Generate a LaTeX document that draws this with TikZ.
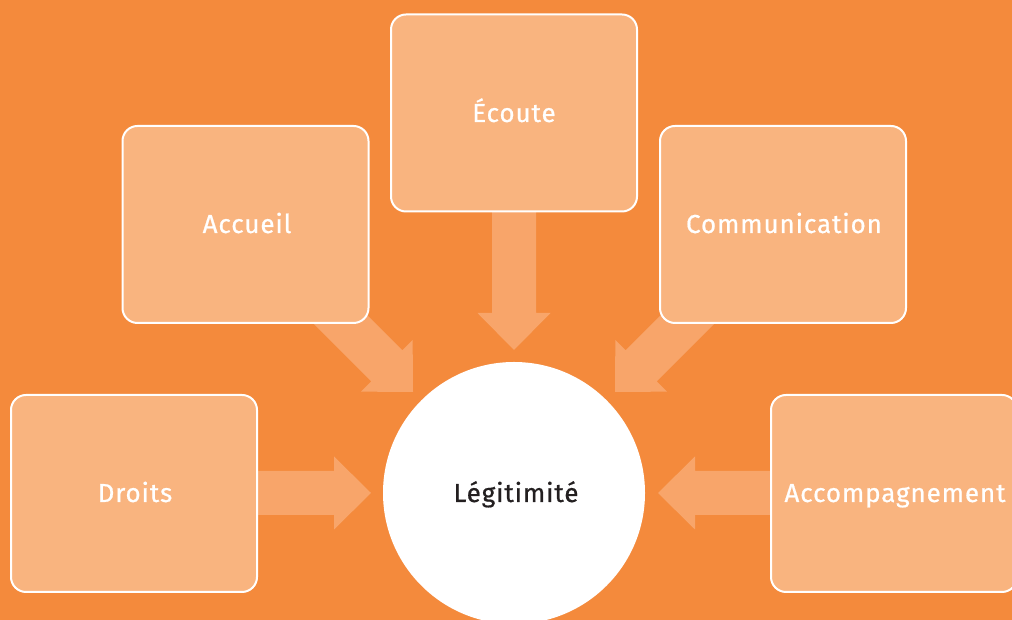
\documentclass[tikz,border=0pt]{standalone}
\usepackage{fontspec}
\setmainfont{Fira Sans}[UprightFeatures={FakeBold=0.7}, LetterSpace=3.5]
\definecolor{bgor}{HTML}{F48A3C}
\definecolor{boxor}{HTML}{F9B47F}
\definecolor{arror}{HTML}{F8A56A}
\definecolor{txtdark}{HTML}{231F20}
\tikzset{
  boxnode/.style={draw=white, line width=2pt, fill=boxor, rounded corners=15pt, minimum width=246pt, minimum height=197pt, inner sep=0pt},
  lbl/.style={anchor=base, inner sep=0pt, text=white, font=\fontsize{26}{30}\selectfont},
}
\begin{document}
\begin{tikzpicture}[x=1pt,y=1pt]
\path[fill=bgor] (0,0) rectangle (1012,620);
\useasboundingbox (0,0) rectangle (1012,620);
\clip (0,0) rectangle (1012,620);
% arrows
\foreach \tx/\ty/\ang/\len in {514/270/-90/150, 371/127/0/125, 658/127/180/125, 413/228/-45/150, 615/228/-135/150}{
  \fill[arror, shift={(\tx,\ty)}, rotate=\ang] (0,0) -- (-37,36.5) -- (-37,22) -- (-\len,22) -- (-\len,-22) -- (-37,-22) -- (-37,-36.5) -- cycle;
}
\node[boxnode] (ecoute) at (514,507) {};
\node[boxnode] (accueil) at (245.5,395.5) {};
\node[boxnode] (comm) at (783,395.5) {};
\node[boxnode] (droits) at (134,126.5) {};
\node[boxnode] (accomp) at (894,126.5) {};
\node[circle, fill=white, minimum size=262pt, inner sep=0pt] (legit) at (514,127) {};
\node[lbl] (t1) at (514,498) {Écoute};
\node[lbl] (t2) at (247,387) {Accueil};
\node[lbl] (t3) at (784,387) {Communication};
\node[lbl] (t4) at (135,118) {Droits};
\node[lbl] (t5) at (895,118) {Accompagnement};
\node[lbl, text=txtdark] (t6) at (516,118) {Légitimité};
\end{tikzpicture}
\end{document}
